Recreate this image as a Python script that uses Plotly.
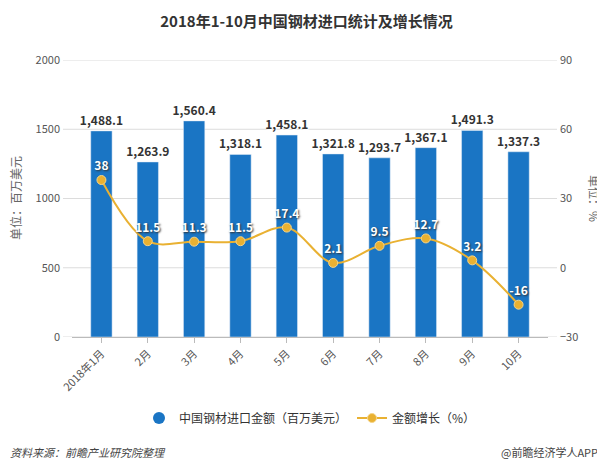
import plotly.graph_objects as go

categories = ["2018年1月", "2月", "3月", "4月", "5月", "6月", "7月", "8月", "9月", "10月"]
import_value = [1488.1, 1263.9, 1560.4, 1318.1, 1458.1, 1321.8, 1293.7, 1367.1, 1491.3, 1337.3]
growth = [38, 11.5, 11.3, 11.5, 17.4, 2.1, 9.5, 12.7, 3.2, -16]
left_ticks = [0, 500, 1000, 1500, 2000]

bar_name = "中国钢材进口金额（百万美元）"
line_name = "金额增长（%）"
title = "2018年1-10月中国钢材进口统计及增长情况"
left_title = "单位：百万美元"
right_title = "单位：%"
source = "资料来源：前瞻产业研究院整理"
credit = "@前瞻经济学人APP"

FONT = "Noto Sans CJK SC, Noto Sans, sans-serif"
BLUE = "#1a75c4"
ORANGE = "#e9b132"

# page body has an 8px default margin; figure sized to fit the window
OFF = 8
W, H = 605 - OFF, 468 - OFF
L, T = 72 - OFF, 60 - OFF
R = W - (548 - OFF)
B = H - (337 - OFF)
PW, PH = W - L - R, H - T - B


def px_x(x):
    return (x - OFF - L) / PW


def px_y(y):
    return (H - B - (y - OFF)) / PH


fig = go.Figure()
fig.add_trace(go.Bar(
    x=categories, y=import_value, marker_color=BLUE, showlegend=False,
    text=[f"{v:,.1f}" for v in import_value], textposition="outside", constraintext="none",
    textfont=dict(size=12, color="#333", family=FONT, weight="bold", shadow="1px 1px 1px #fff"),
    cliponaxis=False, width=0.46,
))
fig.add_trace(go.Scatter(
    x=[None], y=[None], mode="markers", name=bar_name,
    marker=dict(symbol="circle", size=12, color=BLUE), showlegend=True,
))
fig.add_trace(go.Scatter(
    x=categories, y=growth, yaxis="y2", name=line_name, mode="lines+markers+text",
    line=dict(color=ORANGE, width=2, shape="spline", smoothing=1.0),
    marker=dict(size=9, color=ORANGE, line=dict(color="#f5d58a", width=1)),
    text=[f"{v:g}" for v in growth], textposition="top center",
    textfont=dict(size=12, color="#fff", family=FONT, weight="bold", shadow="1px 1px 2px #333"),
    cliponaxis=False,
))

grid_shapes = [
    dict(type="line", xref="paper", yref="y", x0=px_x(63), x1=px_x(557), y0=v, y1=v,
         line=dict(color="#dcdcdc", width=1), layer="below")
    for v in left_ticks
]

fig.update_layout(
    width=W, height=H,
    margin=dict(l=L, r=R, t=T, b=B, autoexpand=False),
    paper_bgcolor="white", plot_bgcolor="white",
    font=dict(family=FONT, size=11, color="#555"),
    title=dict(text=f"<b>{title}</b>", x=0.5, xanchor="center", y=1 - (22 - OFF) / H, yanchor="middle",
               font=dict(size=15, color="#333", family=FONT)),
    xaxis=dict(type="category", showline=True, linecolor="#bbb", linewidth=1,
               ticks="outside", ticklen=5, tickcolor="#bbb", tickangle=-45, automargin=False,
               tickfont=dict(size=11, color="#555"), showgrid=False),
    yaxis=dict(range=[0, 2000], tickvals=left_ticks, showgrid=False,
               zeroline=False, tickfont=dict(size=11, color="#555"), ticks="", showline=False,
               automargin=False, ticklabelstandoff=11),
    yaxis2=dict(range=[-30, 90], dtick=30, overlaying="y", side="right", showgrid=False,
                zeroline=False, tickfont=dict(size=11, color="#555"), showline=False,
                automargin=False, ticklabelstandoff=11),
    legend=dict(orientation="h", x=0.5, xanchor="center", y=px_y(418), yanchor="middle",
                font=dict(size=12, color="#333"), traceorder="normal", itemwidth=30),
    bargap=0.54,
    shapes=grid_shapes,
    annotations=[
        dict(text=left_title, xref="paper", yref="paper", x=px_x(15), y=px_y(198),
             xanchor="center", yanchor="middle", textangle=-90, showarrow=False,
             font=dict(size=12, color="#666")),
        dict(text=right_title, xref="paper", yref="paper", x=px_x(595), y=px_y(198),
             xanchor="center", yanchor="middle", textangle=90, showarrow=False,
             font=dict(size=12, color="#666")),
        dict(text=f"<i>{source}</i>", xref="paper", yref="paper", x=px_x(OFF), y=px_y(452),
             xanchor="left", yanchor="middle", showarrow=False,
             font=dict(size=11, color="#444")),
        dict(text=credit, xref="paper", yref="paper", x=px_x(600), y=px_y(452),
             xanchor="right", yanchor="middle", showarrow=False,
             font=dict(size=11, color="#444")),
    ],
)

fig.write_html("out.html")
